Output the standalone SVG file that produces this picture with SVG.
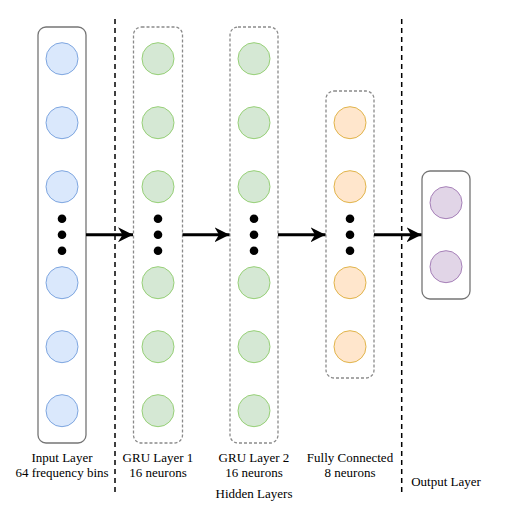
<svg xmlns="http://www.w3.org/2000/svg" width="519" height="519" viewBox="0 0 519 519">
<defs>
<style>
.solidbox{fill:#fff;stroke:#757575;stroke-width:1.3}
.dashbox{fill:#fff;stroke:#8a8a8a;stroke-width:1.3;stroke-dasharray:3 2}
.in{fill:#dae8fc;stroke:#7ea6e0;stroke-width:1}
.gru{fill:#d5e8d4;stroke:#97d077;stroke-width:1}
.fc{fill:#ffe6cc;stroke:#e1b44a;stroke-width:1}
.out{fill:#e1d5e7;stroke:#a680b8;stroke-width:1}
.dot{fill:#000}
.sep{stroke:#000;stroke-width:1.5;stroke-dasharray:5 4;fill:none}
.arr{stroke:#000;stroke-width:3;fill:none;marker-end:url(#ah)}
text{font-family:"Liberation Serif","Times New Roman",serif;font-size:13px;fill:#000;text-anchor:middle}
</style>
<marker id="ah" viewBox="0 0 10 10" refX="10" refY="5" markerWidth="5" markerHeight="5" orient="auto" markerUnits="strokeWidth">
<path d="M0,0 L10,5 L0,10 L3,5 Z" fill="#000"/>
</marker>
</defs>
<rect width="519" height="519" fill="#fff"/>
<g id="separators">
<line class="sep" x1="115" y1="19" x2="115" y2="495"/>
<line class="sep" x1="401.7" y1="19" x2="401.7" y2="495"/>
</g>
<g id="input-layer">
<rect class="solidbox" x="38" y="27" width="48" height="416" rx="8"/>
<circle class="in" cx="62" cy="58.7" r="16"/>
<circle class="in" cx="62" cy="122.7" r="16"/>
<circle class="in" cx="62" cy="186.7" r="16"/>
<circle class="dot" cx="62" cy="218.7" r="4.3"/>
<circle class="dot" cx="62" cy="234.7" r="4.3"/>
<circle class="dot" cx="62" cy="250.7" r="4.3"/>
<circle class="in" cx="62" cy="282.7" r="16"/>
<circle class="in" cx="62" cy="346.7" r="16"/>
<circle class="in" cx="62" cy="410.7" r="16"/>
<text x="62" y="461.5">Input Layer</text>
<text x="62" y="477">64 frequency bins</text>
</g>
<g id="gru-layer-1">
<rect class="dashbox" x="133.5" y="27" width="49" height="416" rx="8"/>
<circle class="gru" cx="158" cy="58.7" r="16"/>
<circle class="gru" cx="158" cy="122.7" r="16"/>
<circle class="gru" cx="158" cy="186.7" r="16"/>
<circle class="dot" cx="158" cy="218.7" r="4.3"/>
<circle class="dot" cx="158" cy="234.7" r="4.3"/>
<circle class="dot" cx="158" cy="250.7" r="4.3"/>
<circle class="gru" cx="158" cy="282.7" r="16"/>
<circle class="gru" cx="158" cy="346.7" r="16"/>
<circle class="gru" cx="158" cy="410.7" r="16"/>
<text x="158" y="461.5">GRU Layer 1</text>
<text x="158" y="477">16 neurons</text>
</g>
<g id="gru-layer-2">
<rect class="dashbox" x="230" y="27" width="48" height="416" rx="8"/>
<circle class="gru" cx="254" cy="58.7" r="16"/>
<circle class="gru" cx="254" cy="122.7" r="16"/>
<circle class="gru" cx="254" cy="186.7" r="16"/>
<circle class="dot" cx="254" cy="218.7" r="4.3"/>
<circle class="dot" cx="254" cy="234.7" r="4.3"/>
<circle class="dot" cx="254" cy="250.7" r="4.3"/>
<circle class="gru" cx="254" cy="282.7" r="16"/>
<circle class="gru" cx="254" cy="346.7" r="16"/>
<circle class="gru" cx="254" cy="410.7" r="16"/>
<text x="254" y="461.5">GRU Layer 2</text>
<text x="254" y="477">16 neurons</text>
</g>
<g id="fully-connected">
<rect class="dashbox" x="326" y="91" width="48" height="287" rx="8"/>
<circle class="fc" cx="350" cy="122.7" r="16"/>
<circle class="fc" cx="350" cy="186.7" r="16"/>
<circle class="dot" cx="350" cy="218.7" r="4.3"/>
<circle class="dot" cx="350" cy="234.7" r="4.3"/>
<circle class="dot" cx="350" cy="250.7" r="4.3"/>
<circle class="fc" cx="350" cy="282.7" r="16"/>
<circle class="fc" cx="350" cy="346.7" r="16"/>
<text x="350" y="461.5">Fully Connected</text>
<text x="350" y="477">8 neurons</text>
</g>
<g id="output-layer">
<rect class="solidbox" x="422" y="171" width="48" height="128" rx="8"/>
<circle class="out" cx="446" cy="202.7" r="16"/>
<circle class="out" cx="446" cy="266.7" r="16"/>
<text x="446" y="485.5">Output Layer</text>
</g>
<g id="hidden-label">
<text x="254" y="497.5">Hidden Layers</text>
</g>
<g id="connectors">
<line class="arr" x1="86" y1="234.7" x2="133" y2="234.7"/>
<line class="arr" x1="182.5" y1="234.7" x2="229.5" y2="234.7"/>
<line class="arr" x1="278" y1="234.7" x2="325.5" y2="234.7"/>
<line class="arr" x1="374" y1="234.7" x2="421.5" y2="234.7"/>
</g>
</svg>
